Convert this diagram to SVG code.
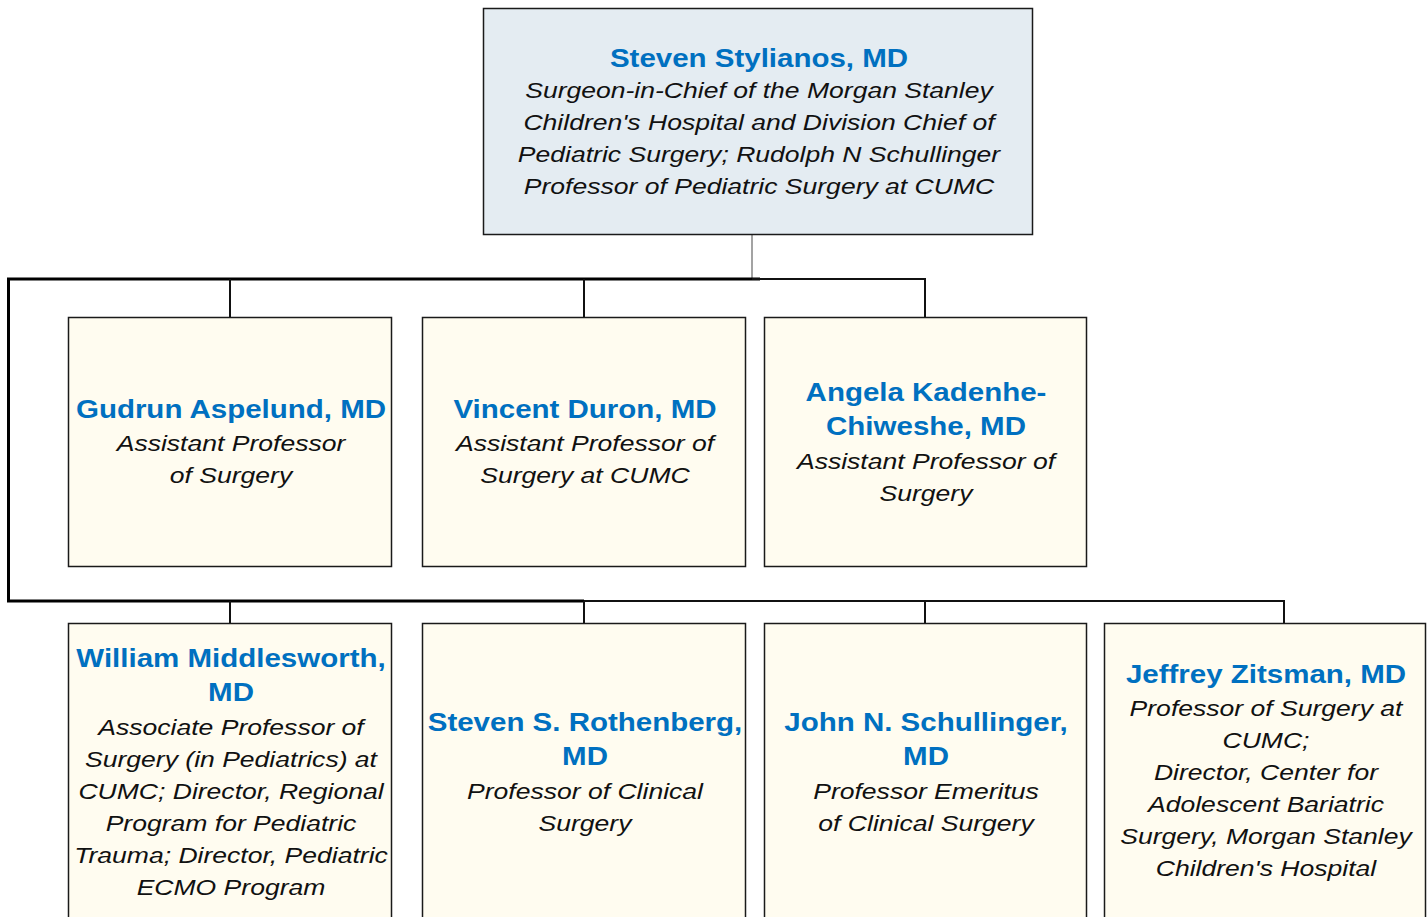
<svg xmlns="http://www.w3.org/2000/svg" width="1427" height="917" viewBox="0 0 1427 917">
<style>
.top{fill:#e4ecf2;stroke:#1a1a1a;stroke-width:1.5}
.box{fill:#fffcf0;stroke:#1a1a1a;stroke-width:1.5}
.nm{font-family:"Liberation Sans",Arial,sans-serif;font-weight:bold;font-size:25px;fill:#0070c0;text-anchor:middle}
.tt{font-family:"Liberation Sans",Arial,sans-serif;font-style:italic;font-size:22.5px;fill:#111;text-anchor:middle}
.thick{fill:none;stroke:#000;stroke-width:3}
.thin{fill:none;stroke:#111;stroke-width:2}
.grey{fill:none;stroke:#666;stroke-width:1.2}
</style>
<rect width="1427" height="917" fill="#fff"/>
<g id="connectors">
<path class="grey" d="M752 235V279"/>
<path class="thick" d="M760 279H8.5V601H584"/>
<path class="thin" d="M752 279H925V317M230 279V317M584 279V317"/>
<path class="thin" d="M584 601H1284V623M230 601V623M584 601V623M925 601V623"/>
</g>
<g id="n-stylianos">
<rect class="top" x="483.5" y="8.5" width="549" height="226"/>
<g transform="translate(759 0) scale(1.18 1)">
<text class="nm" x="0" y="67">Steven Stylianos, MD</text>
<text class="tt" x="0" y="98.5">Surgeon-in-Chief of the Morgan Stanley</text>
<text class="tt" x="0" y="130.5">Children's Hospital and Division Chief of</text>
<text class="tt" x="0" y="162.5">Pediatric Surgery; Rudolph N Schullinger</text>
<text class="tt" x="0" y="194.5">Professor of Pediatric Surgery at CUMC</text>
</g>
</g>
<g id="n-aspelund">
<rect class="box" x="68.5" y="317.5" width="323" height="249"/>
<g transform="translate(231 0) scale(1.18 1)">
<text class="nm" x="0" y="418">Gudrun Aspelund, MD</text>
<text class="tt" x="0" y="451">Assistant Professor</text>
<text class="tt" x="0" y="483">of Surgery</text>
</g>
</g>
<g id="n-duron">
<rect class="box" x="422.5" y="317.5" width="323" height="249"/>
<g transform="translate(585 0) scale(1.18 1)">
<text class="nm" x="0" y="418">Vincent Duron, MD</text>
<text class="tt" x="0" y="451">Assistant Professor of</text>
<text class="tt" x="0" y="483">Surgery at CUMC</text>
</g>
</g>
<g id="n-kadenhe">
<rect class="box" x="764.5" y="317.5" width="322" height="249"/>
<g transform="translate(926 0) scale(1.18 1)">
<text class="nm" x="0" y="401">Angela Kadenhe-</text>
<text class="nm" x="0" y="435">Chiweshe, MD</text>
<text class="tt" x="0" y="469">Assistant Professor of</text>
<text class="tt" x="0" y="501">Surgery</text>
</g>
</g>
<g id="n-middlesworth">
<rect class="box" x="68.5" y="623.5" width="323" height="310"/>
<g transform="translate(231 0) scale(1.18 1)">
<text class="nm" x="0" y="667">William Middlesworth,</text>
<text class="nm" x="0" y="701">MD</text>
<text class="tt" x="0" y="735">Associate Professor of</text>
<text class="tt" x="0" y="767">Surgery (in Pediatrics) at</text>
<text class="tt" x="0" y="799">CUMC; Director, Regional</text>
<text class="tt" x="0" y="831">Program for Pediatric</text>
<text class="tt" x="0" y="863">Trauma; Director, Pediatric</text>
<text class="tt" x="0" y="895">ECMO Program</text>
</g>
</g>
<g id="n-rothenberg">
<rect class="box" x="422.5" y="623.5" width="323" height="310"/>
<g transform="translate(585 0) scale(1.18 1)">
<text class="nm" x="0" y="731">Steven S. Rothenberg,</text>
<text class="nm" x="0" y="765">MD</text>
<text class="tt" x="0" y="799">Professor of Clinical</text>
<text class="tt" x="0" y="831">Surgery</text>
</g>
</g>
<g id="n-schullinger">
<rect class="box" x="764.5" y="623.5" width="322" height="310"/>
<g transform="translate(926 0) scale(1.18 1)">
<text class="nm" x="0" y="731">John N. Schullinger,</text>
<text class="nm" x="0" y="765">MD</text>
<text class="tt" x="0" y="799">Professor Emeritus</text>
<text class="tt" x="0" y="831">of Clinical Surgery</text>
</g>
</g>
<g id="n-zitsman">
<rect class="box" x="1104.5" y="623.5" width="321" height="310"/>
<g transform="translate(1266 0) scale(1.18 1)">
<text class="nm" x="0" y="683">Jeffrey Zitsman, MD</text>
<text class="tt" x="0" y="716">Professor of Surgery at</text>
<text class="tt" x="0" y="748">CUMC;</text>
<text class="tt" x="0" y="780">Director, Center for</text>
<text class="tt" x="0" y="812">Adolescent Bariatric</text>
<text class="tt" x="0" y="844">Surgery, Morgan Stanley</text>
<text class="tt" x="0" y="876">Children's Hospital</text>
</g>
</g>
</svg>
